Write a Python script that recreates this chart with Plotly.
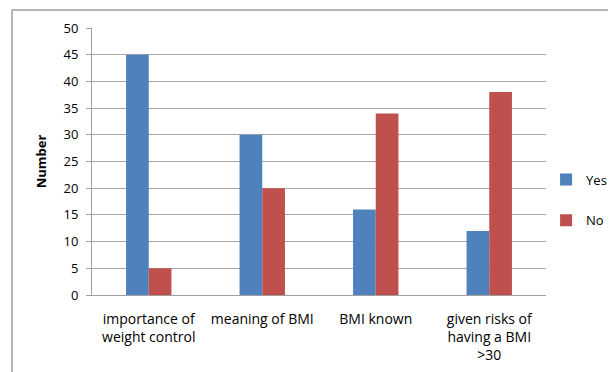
import plotly.graph_objects as go

categories = ["importance of<br>weight control", "meaning of BMI", "BMI known",
              "given risks of<br>having a BMI<br>>30"]
yes_values = [45, 30, 16, 12]
no_values = [5, 20, 34, 38]
y_ticks = [0, 5, 10, 15, 20, 25, 30, 35, 40, 45, 50]

FONT = "Open Sans, sans-serif"

fig = go.Figure()
fig.add_trace(go.Bar(name="Yes", x=categories, y=yes_values, marker_color="#4F81BD",
                     marker_line_width=0, legendgroup="yes"))
fig.add_trace(go.Bar(name="No", x=categories, y=no_values, marker_color="#C0504D",
                     marker_line_width=0, legendgroup="no"))

# page has an 8px body margin; size/margins compensate so plot sits at x 92-546, y 28-295
fig.update_layout(
    width=608, height=364,
    margin=dict(l=84, r=70, t=20, b=77, autoexpand=False),
    paper_bgcolor="white", plot_bgcolor="white",
    barmode="group", bargap=0.6, bargroupgap=0,
    font=dict(family=FONT, size=13, color="#000000"),
    showlegend=True,
    legend=dict(xref="container", yref="container", x=0.885, y=0.4725,
                xanchor="left", yanchor="middle",
                font=dict(size=13), itemwidth=30, tracegroupgap=21,
                bgcolor="rgba(0,0,0,0)"),
    xaxis=dict(showgrid=False, showline=True, linecolor="#A0A0A0", linewidth=1,
               ticks="", tickfont=dict(size=14), ticklabelstandoff=11),
    yaxis=dict(range=[0, 50], tickvals=y_ticks, showgrid=True, gridcolor="#A6A6A6",
               gridwidth=1, showline=True, linecolor="#A0A0A0", linewidth=1,
               ticks="outside", ticklen=5, tickcolor="#A0A0A0", zeroline=False,
               tickfont=dict(size=13), ticklabelstandoff=5,
               title=dict(text="<b>Number</b>", font=dict(size=13), standoff=13)),
    shapes=[dict(type="rect", xref="paper", yref="paper",
                 x0=(12 - 92) / 454, x1=(640 - 92) / 454,
                 y0=(295 - 390) / 267, y1=(295 - 10) / 267,
                 line=dict(color="#A0A0A0", width=1.5), fillcolor="rgba(0,0,0,0)",
                 layer="below")],
)

fig.write_html("out.html")
